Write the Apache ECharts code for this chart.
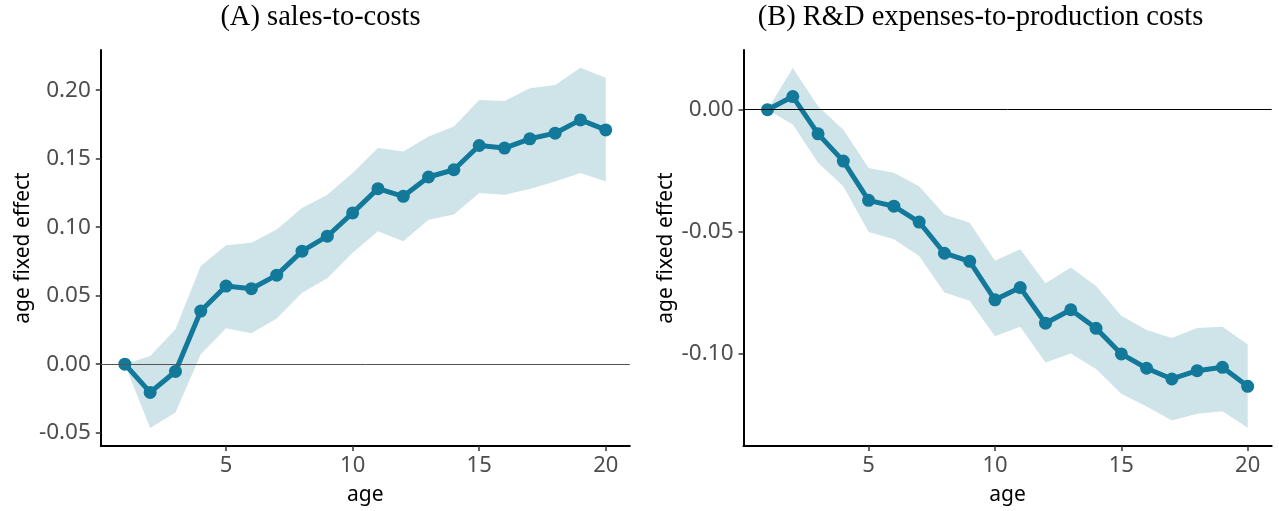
<!DOCTYPE html>
<html>
<head>
<meta charset="utf-8">
<script src="https://cdn.jsdelivr.net/npm/echarts@6/dist/echarts.min.js"></script>
<style>
  html, body { margin: 0; padding: 0; background: #fff; }
  #chart { width: 1279px; height: 511px; }
</style>
</head>
<body>
<div id="chart"></div>
<script>
// Age fixed effects with confidence bands, ages 1..20
const ages = [1,2,3,4,5,6,7,8,9,10,11,12,13,14,15,16,17,18,19,20];

// (A) sales-to-costs
const salesEst   = [0, -0.0206, -0.0053, 0.0388, 0.0570, 0.0551, 0.0650, 0.0825, 0.0934, 0.1104, 0.1281, 0.1225, 0.1366, 0.1419, 0.1596, 0.1577, 0.1645, 0.1686, 0.1783, 0.1710];
const salesLower = [0, -0.0466, -0.0352, 0.0073, 0.0262, 0.0226, 0.0333, 0.0522, 0.0628, 0.0813, 0.0970, 0.0897, 0.1055, 0.1092, 0.1250, 0.1237, 0.1279, 0.1334, 0.1395, 0.1334];
const salesUpper = [0, 0.0060, 0.0255, 0.0716, 0.0868, 0.0886, 0.0983, 0.1140, 0.1237, 0.1395, 0.1577, 0.1553, 0.1662, 0.1734, 0.1929, 0.1921, 0.2013, 0.2038, 0.2164, 0.2091];

// (B) R&D expenses-to-production costs
const rdEst   = [0, 0.0054, -0.0099, -0.0211, -0.0372, -0.0396, -0.0461, -0.0589, -0.0622, -0.0780, -0.0730, -0.0876, -0.0821, -0.0897, -0.1002, -0.1061, -0.1105, -0.1071, -0.1057, -0.1135];
const rdLower = [0, -0.0061, -0.0218, -0.0314, -0.0502, -0.0532, -0.0600, -0.0750, -0.0784, -0.0930, -0.0891, -0.1037, -0.1000, -0.1064, -0.1166, -0.1218, -0.1275, -0.1248, -0.1237, -0.1305];
const rdUpper = [0, 0.0171, 0.0014, -0.0082, -0.0239, -0.0259, -0.0314, -0.0430, -0.0464, -0.0620, -0.0573, -0.0712, -0.0648, -0.0723, -0.0846, -0.0904, -0.0937, -0.0896, -0.0891, -0.0964];

const xTicks = [5, 10, 15, 20];
const yTicksA = [-0.05, 0, 0.05, 0.10, 0.15, 0.20];
const yTicksB = [-0.10, -0.05, 0];

const titles = ['(A) sales-to-costs', '(B) R&D expenses-to-production costs'];
const xName = 'age';
const yName = 'age fixed effect';

const LINE = '#12799a';
const BAND = '#cfe4e9';
const SANS = '"Noto Sans", "Open Sans", sans-serif';
const SERIF = '"Liberation Serif", serif';

function pairs(xs, ys) { return xs.map((x, i) => [x, ys[i]]); }

function xAxisFor(gi) {
  return {
    gridIndex: gi, type: 'value', min: 0.05, max: 20.95,
    name: xName, nameLocation: 'middle', nameGap: 39,
    nameTextStyle: { color: '#000', fontSize: 21, fontFamily: SANS },
    axisLine: { onZero: false, lineStyle: { color: '#000', width: 2 } },
    axisTick: { customValues: xTicks, length: 5, lineStyle: { color: '#333', width: 1.5 } },
    axisLabel: { customValues: xTicks, color: '#4d4d4d', fontSize: 22, fontFamily: SANS, margin: 9 },
    splitLine: { show: false }
  };
}

function yAxisFor(gi, lo, hi, ticks) {
  return {
    gridIndex: gi, type: 'value', min: lo, max: hi,
    name: yName, nameLocation: 'middle', nameGap: 67, nameRotate: 90,
    nameTextStyle: { color: '#000', fontSize: 21, fontFamily: SANS },
    axisLine: { show: true, onZero: false, lineStyle: { color: '#000', width: 2 } },
    axisTick: { show: true, customValues: ticks, length: 5, lineStyle: { color: '#333', width: 1.5 } },
    axisLabel: { customValues: ticks, color: '#4d4d4d', fontSize: 22.5, fontFamily: SANS, margin: 10,
                 formatter: v => v.toFixed(2) },
    splitLine: { show: false }
  };
}

// Confidence band: one polygon along the upper edge and back along the lower edge
function bandSeries(gi, lower, upper) {
  return {
    type: 'custom', xAxisIndex: gi, yAxisIndex: gi, silent: true, z: 1,
    data: ages.map((a, i) => [a, lower[i], upper[i]]),
    encode: { x: 0, y: [1, 2] },
    renderItem: function (params, api) {
      if (params.dataIndex !== 0) return null;
      const pts = [];
      for (let i = 0; i < ages.length; i++) pts.push(api.coord([ages[i], upper[i]]));
      for (let i = ages.length - 1; i >= 0; i--) pts.push(api.coord([ages[i], lower[i]]));
      return { type: 'polygon', shape: { points: pts }, style: { fill: BAND } };
    }
  };
}

function panelSeries(gi, est, lower, upper, zeroColor) {
  return [
    bandSeries(gi, lower, upper),
    { // reference line at zero
      type: 'line', xAxisIndex: gi, yAxisIndex: gi, data: [], z: 2,
      markLine: { silent: true, symbol: 'none', label: { show: false },
                  lineStyle: { color: zeroColor, width: 1, type: 'solid' },
                  data: [{ yAxis: 0 }] }
    },
    { // point estimates
      type: 'line', xAxisIndex: gi, yAxisIndex: gi, data: pairs(ages, est), z: 3,
      symbol: 'circle', symbolSize: 13, showAllSymbol: true,
      lineStyle: { color: LINE, width: 5 }, itemStyle: { color: LINE }
    }
  ];
}

const chart = echarts.init(document.getElementById('chart'), null, { renderer: 'canvas' });
chart.setOption({
  animation: false,
  backgroundColor: '#fff',
  title: [
    { text: titles[0], left: 320.5, top: 3, textAlign: 'center', padding: 0,
      textStyle: { fontFamily: SERIF, fontWeight: 'normal', fontSize: 28.5, color: '#000' } },
    { text: titles[1], left: 980.5, top: 3, textAlign: 'center', padding: 0,
      textStyle: { fontFamily: SERIF, fontWeight: 'normal', fontSize: 28.5, color: '#000' } }
  ],
  grid: [
    { left: 100.8, top: 50, width: 529, height: 397 },
    { left: 743.5, top: 50, width: 528.2, height: 397.3 }
  ],
  xAxis: [xAxisFor(0), xAxisFor(1)],
  yAxis: [yAxisFor(0, -0.0597, 0.2293, yTicksA), yAxisFor(1, -0.138, 0.0245, yTicksB)],
  series: [
    ...panelSeries(0, salesEst, salesLower, salesUpper, '#555'),
    ...panelSeries(1, rdEst, rdLower, rdUpper, '#000')
  ]
});
</script>
</body>
</html>
